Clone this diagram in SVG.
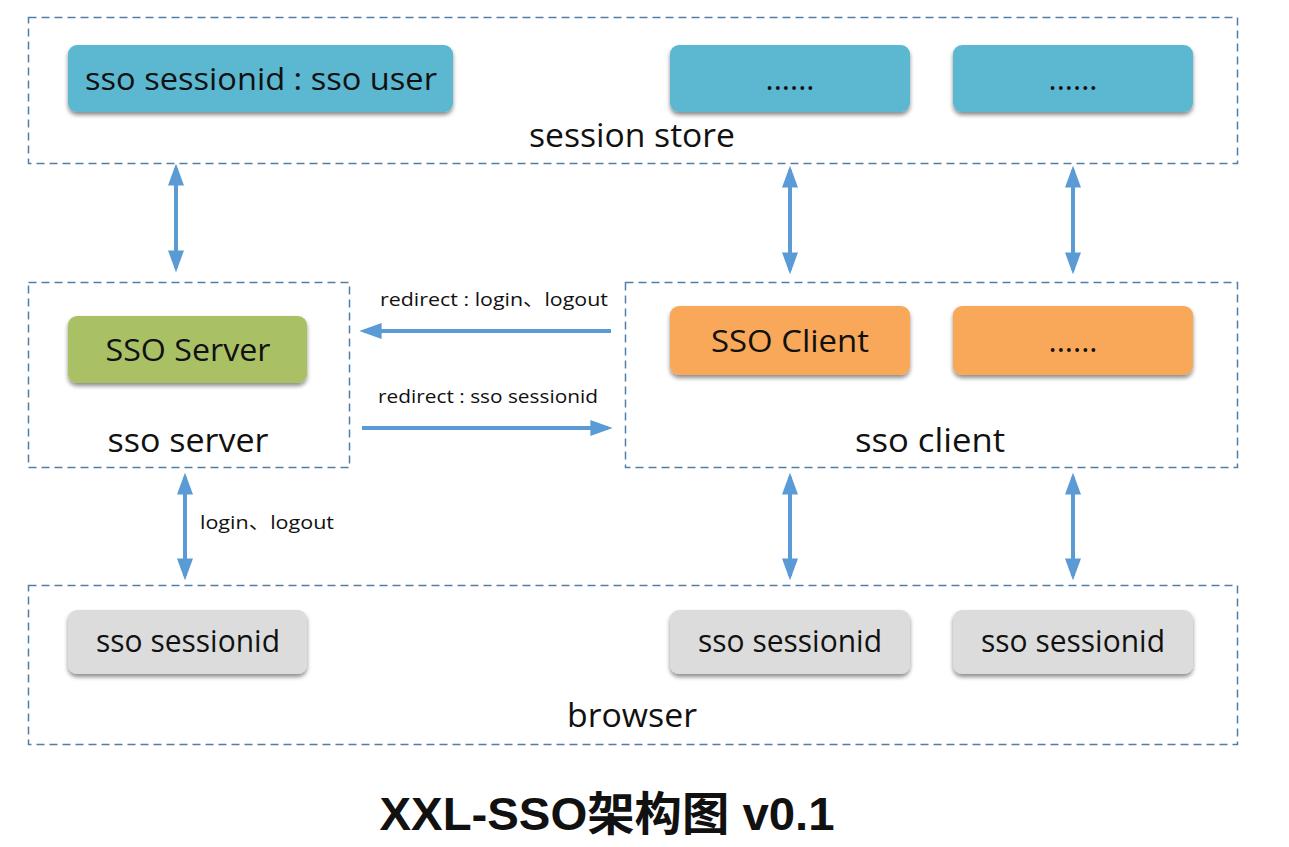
<svg xmlns="http://www.w3.org/2000/svg" width="1289" height="847" viewBox="0 0 1289 847">
<defs>
<filter id="sh" x="-10%" y="-20%" width="120%" height="150%">
<feDropShadow dx="0" dy="3" stdDeviation="2" flood-color="#000" flood-opacity="0.45"/>
</filter>
<marker id="ah" viewBox="0 0 10 10" refX="8" refY="5" markerWidth="5.5" markerHeight="4" preserveAspectRatio="none" orient="auto-start-reverse" markerUnits="strokeWidth">
<path d="M0,0 L10,5 L0,10 z" fill="#5b9bd5"/>
</marker>
</defs>
<style>
.grp{fill:none;stroke:#4f7ea8;stroke-width:1.5;stroke-dasharray:8 5}
.nd{filter:url(#sh)}
.blue{fill:#5bb7d1}
.green{fill:#a9c065}
.orange{fill:#f8a858}
.gray{fill:#dcdcdc}
.t{font-family:"Open Sans","Noto Sans","Noto Sans CJK SC",sans-serif;fill:#111;text-anchor:middle}
.nt{font-size:31px}
.gt{font-size:32px}
.lt{font-size:19px;text-anchor:start}
.c{fill:none;stroke:#5b9bd5;stroke-width:4}
.title{font-family:"Liberation Sans","Noto Sans CJK SC",sans-serif;font-weight:bold;font-size:46px;fill:#111;text-anchor:middle}
</style>
<rect width="1289" height="847" fill="#fff"/>

<g id="session-store">
<rect class="grp" x="28.5" y="17.5" width="1209" height="146"/>
<text class="t gt" x="632" y="147" textLength="206" lengthAdjust="spacingAndGlyphs">session store</text>
</g>
<g id="store-user">
<rect class="nd blue" x="68" y="45" width="385" height="67" rx="9"/>
<text class="t nt" x="261" y="90" textLength="352" lengthAdjust="spacingAndGlyphs">sso sessionid : sso user</text>
</g>
<g id="store-more1">
<rect class="nd blue" x="670" y="45" width="240" height="67" rx="9"/>
<text class="t nt" x="790" y="90">......</text>
</g>
<g id="store-more2">
<rect class="nd blue" x="953" y="45" width="240" height="67" rx="9"/>
<text class="t nt" x="1073" y="90">......</text>
</g>

<g id="sso-server-group">
<rect class="grp" x="28.5" y="282.5" width="321" height="185"/>
<text class="t gt" x="188" y="452" textLength="161" lengthAdjust="spacingAndGlyphs">sso server</text>
</g>
<g id="sso-server">
<rect class="nd green" x="68" y="316" width="239" height="67" rx="9"/>
<text class="t nt" x="188" y="361" textLength="165" lengthAdjust="spacingAndGlyphs">SSO Server</text>
</g>

<g id="sso-client-group">
<rect class="grp" x="625.5" y="282.5" width="612" height="185"/>
<text class="t gt" x="930" y="452" textLength="150" lengthAdjust="spacingAndGlyphs">sso client</text>
</g>
<g id="sso-client">
<rect class="nd orange" x="670" y="306" width="240" height="69" rx="9"/>
<text class="t nt" x="790" y="352" textLength="158" lengthAdjust="spacingAndGlyphs">SSO Client</text>
</g>
<g id="sso-client-more">
<rect class="nd orange" x="953" y="306" width="240" height="69" rx="9"/>
<text class="t nt" x="1073" y="352">......</text>
</g>

<g id="browser-group">
<rect class="grp" x="28.5" y="585.5" width="1209" height="159"/>
<text class="t gt" x="632" y="727" textLength="130" lengthAdjust="spacingAndGlyphs">browser</text>
</g>
<g id="browser-1">
<rect class="nd gray" x="68" y="610" width="239" height="64" rx="9"/>
<text class="t nt" x="188" y="652" textLength="184" lengthAdjust="spacingAndGlyphs">sso sessionid</text>
</g>
<g id="browser-2">
<rect class="nd gray" x="670" y="610" width="240" height="64" rx="9"/>
<text class="t nt" x="790" y="652" textLength="184" lengthAdjust="spacingAndGlyphs">sso sessionid</text>
</g>
<g id="browser-3">
<rect class="nd gray" x="953" y="610" width="240" height="64" rx="9"/>
<text class="t nt" x="1073" y="652" textLength="184" lengthAdjust="spacingAndGlyphs">sso sessionid</text>
</g>

<g id="connectors">
<line class="c" x1="176" y1="168" x2="176" y2="268" marker-start="url(#ah)" marker-end="url(#ah)"/>
<line class="c" x1="790" y1="170" x2="790" y2="270" marker-start="url(#ah)" marker-end="url(#ah)"/>
<line class="c" x1="1073" y1="170" x2="1073" y2="270" marker-start="url(#ah)" marker-end="url(#ah)"/>
<line class="c" x1="185" y1="477" x2="185" y2="576" marker-start="url(#ah)" marker-end="url(#ah)"/>
<line class="c" x1="790" y1="477" x2="790" y2="576" marker-start="url(#ah)" marker-end="url(#ah)"/>
<line class="c" x1="1073" y1="477" x2="1073" y2="576" marker-start="url(#ah)" marker-end="url(#ah)"/>
<line class="c" x1="611" y1="331" x2="364" y2="331" marker-end="url(#ah)"/>
<line class="c" x1="362" y1="428" x2="608" y2="428" marker-end="url(#ah)"/>
<text class="t lt" x="380" y="306" textLength="228" lengthAdjust="spacingAndGlyphs">redirect : login、logout</text>
<text class="t lt" x="378" y="403" textLength="220" lengthAdjust="spacingAndGlyphs">redirect : sso sessionid</text>
<text class="t lt" x="200" y="529" textLength="134" lengthAdjust="spacingAndGlyphs">login、logout</text>
</g>

<text class="title" x="607" y="830" textLength="455" lengthAdjust="spacingAndGlyphs">XXL-SSO架构图 v0.1</text>
</svg>
